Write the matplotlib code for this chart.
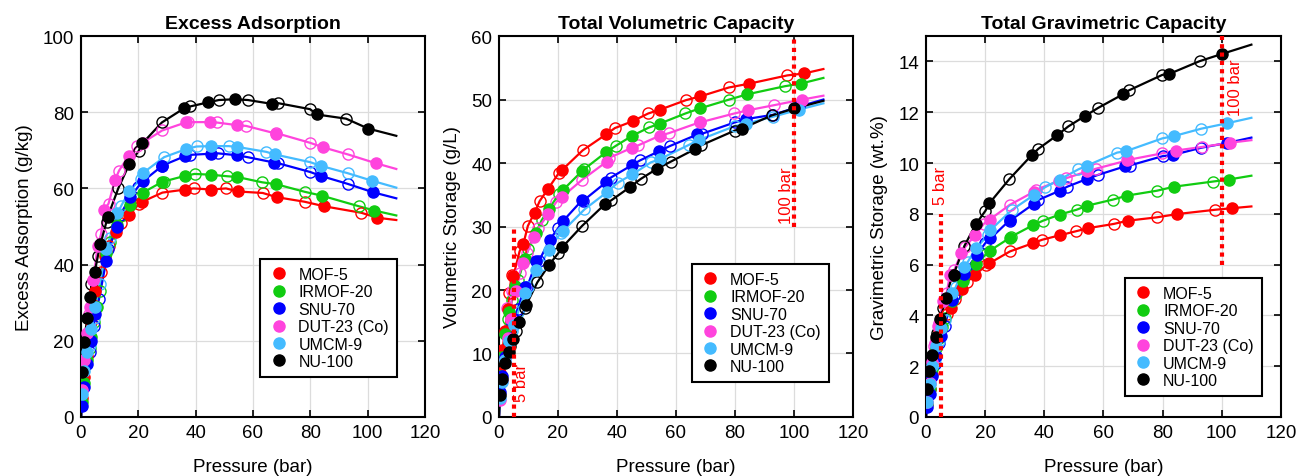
import numpy as np
import matplotlib
matplotlib.use("Agg")
import matplotlib.pyplot as plt

plt.rcParams['font.family'] = ['Liberation Sans', 'DejaVu Sans']

materials = ['MOF-5', 'IRMOF-20', 'SNU-70', 'DUT-23 (Co)', 'UMCM-9', 'NU-100']
colors = ['#ff0000', '#11cc11', '#0000ff', '#ff44dd', '#44bbff', '#000000']

# pressures (bar) of adsorption (filled) and desorption (open) points
p_ads = {
    'MOF-5': [0.5, 1.2, 2.0, 3.0, 4.9, 8.3, 12.1, 16.6, 21.4, 36.3, 45.4, 54.6, 68.3, 84.9, 103.4],
    'IRMOF-20': [0.5, 1.2, 2.2, 3.5, 5.5, 8.7, 12.5, 17.0, 21.6, 28.3, 36.3, 45.2, 54.5, 68.1, 84.0, 102.3],
    'SNU-70': [0.5, 1.2, 2.2, 3.5, 5.0, 8.8, 12.7, 17.2, 21.8, 28.3, 36.4, 45.2, 54.4, 67.3, 83.6, 101.8],
    'DUT-23 (Co)': [0.5, 1.2, 2.0, 3.0, 4.2, 5.8, 8.1, 11.9, 16.6, 21.5, 36.5, 45.1, 54.5, 68.0, 84.4, 102.9],
    'UMCM-9': [0.5, 1.2, 2.2, 3.5, 5.0, 8.8, 12.7, 16.9, 21.7, 36.6, 45.2, 54.5, 67.7, 83.8, 101.6],
    'NU-100': [0.4, 1.0, 2.2, 3.3, 4.8, 6.8, 9.3, 16.9, 21.4, 35.9, 44.4, 53.6, 66.5, 82.3, 100.2],
}
p_des = {
    'MOF-5': [3.5, 4.3, 7.0, 9.8, 13.8, 20.4, 28.4, 39.3, 50.6, 63.4, 78.0, 97.8],
    'IRMOF-20': [3.0, 4.5, 6.5, 10.0, 14.5, 20.3, 28.8, 39.6, 50.9, 63.2, 78.1, 97.0],
    'SNU-70': [3.0, 4.5, 6.3, 9.5, 13.6, 20.0, 28.4, 37.9, 47.8, 58.1, 68.8, 80.0, 93.0],
    'DUT-23 (Co)': [2.8, 4.3, 7.0, 9.6, 13.3, 19.5, 28.3, 37.3, 47.3, 57.6, 68.2, 79.8, 93.2],
    'UMCM-9': [3.0, 4.5, 6.5, 10.0, 14.1, 20.9, 29.0, 40.3, 51.5, 64.6, 79.9, 93.0],
    'NU-100': [3.6, 5.9, 8.9, 13.0, 20.1, 28.2, 38.0, 48.1, 58.2, 68.6, 79.9, 92.5],
}

# excess adsorption (g/kg)
exc_ads = {
    'MOF-5': [5, 10.5, 16, 21, 33, 42.3, 48.6, 53, 56.5, 59.7, 59.7, 59.2, 57.7, 55.3, 52.3],
    'IRMOF-20': [4, 9, 15, 21, 29, 43, 50.5, 55.6, 58.9, 61.7, 63.3, 63.6, 63.0, 61.1, 58.1, 54.2],
    'SNU-70': [3, 8, 14, 20, 27, 41, 50, 57.7, 62, 65.9, 68.5, 69.1, 68.7, 66.8, 63.3, 59],
    'DUT-23 (Co)': [7, 15, 22, 29, 36, 45, 54.4, 62.3, 68.5, 72, 77.3, 77.4, 76.6, 74.4, 70.8, 66.6],
    'UMCM-9': [6, 12, 17, 23, 29, 44, 53.5, 59.4, 64.1, 70.3, 71.1, 70.9, 68.9, 65.9, 62],
    'NU-100': [11.7, 19.8, 25.9, 31.6, 38.1, 45.4, 52.5, 66.5, 71.8, 81, 82.6, 83.4, 82.2, 79.4, 75.7],
}
exc_des = {
    'MOF-5': [25, 29.5, 38, 44.8, 50.8, 56, 58.9, 60, 60, 58.8, 56.5, 53.6],
    'IRMOF-20': [18, 25, 33, 46, 53, 57.5, 61.8, 63.8, 63.2, 61.6, 59.1, 55.3],
    'SNU-70': [17, 24, 31, 44, 53, 60.5, 66, 68.8, 69.2, 68.2, 66.6, 64.3, 61.2],
    'DUT-23 (Co)': [27, 36, 48, 56, 64.7, 71, 75.2, 77.4, 77.3, 76.4, 74.5, 72, 68.9],
    'UMCM-9': [19, 26, 35, 47, 55.5, 62.5, 68.2, 71, 71.1, 69.6, 66.9, 64],
    'NU-100': [34.9, 42.3, 51.3, 60, 69.8, 77.3, 81.5, 83.2, 83.2, 82.4, 80.8, 78.3],
}
exc_end = {'MOF-5': 51.7, 'IRMOF-20': 52.9, 'SNU-70': 57.4,
           'DUT-23 (Co)': 65.1, 'UMCM-9': 60.2, 'NU-100': 73.8}

# total volumetric storage (g/L)
vol_ads = {
    'MOF-5': [7, 10.5, 13.5, 17, 22.2, 27.3, 32.2, 35.9, 38.9, 44.5, 46.6, 48.4, 50.5, 52.5, 54.1],
    'IRMOF-20': [6.5, 9.5, 13, 16.5, 20.6, 24.9, 29, 32.8, 35.7, 38.8, 41.7, 44.3, 46.2, 48.6, 50.8, 52.5],
    'SNU-70': [4, 6.5, 9.5, 12.5, 15.5, 20.5, 24.5, 27.9, 30.9, 34.2, 37, 39.7, 41.9, 44.5, 46.9, 48.9],
    'DUT-23 (Co)': [2.7, 5.7, 9, 12.5, 15.5, 19.8, 24.2, 28.4, 31.9, 34.7, 40.2, 42.4, 44.3, 46.4, 48.3, 50],
    'UMCM-9': [3, 5.5, 9, 12, 14.5, 19.5, 23.1, 26.3, 29.3, 35.4, 38.2, 40.6, 43.6, 46.2, 48.4],
    'NU-100': [3.4, 6.0, 8.5, 10.2, 12.3, 15, 17.7, 23.9, 26.7, 33.5, 36.2, 39.1, 42.2, 45.4, 48.6],
}
vol_des = {
    'MOF-5': [19.5, 22.3, 26.1, 30.1, 34, 38.5, 42, 45.5, 47.8, 49.9, 51.9, 53.8],
    'IRMOF-20': [15.5, 18.5, 21.5, 26.5, 31, 35.1, 39, 42.7, 45.6, 47.8, 50, 52.1],
    'SNU-70': [11, 14.5, 17, 20.4, 24.6, 29.7, 34, 37.7, 40.4, 42.7, 44.6, 46.4, 47.6],
    'DUT-23 (Co)': [17.2, 19.8, 22.7, 25.9, 29.7, 33.9, 37.4, 40.8, 42.8, 44.7, 46.4, 47.8, 49.1],
    'UMCM-9': [10.5, 13.5, 16.5, 20.5, 24, 29, 32.7, 36.9, 40.1, 42.9, 45.8, 47.3],
    'NU-100': [11.2, 13.6, 17.2, 21.2, 25.8, 30.1, 34.1, 37.5, 40.2, 42.8, 45.1, 47.5],
}
vol_end = {'MOF-5': 54.8, 'IRMOF-20': 53.4, 'SNU-70': 50.0,
           'DUT-23 (Co)': 50.6, 'UMCM-9': 49.4, 'NU-100': 49.8}

# total gravimetric storage (wt.%)
grav_ads = {
    'MOF-5': [0.55, 1.1, 1.7, 2.4, 3.52, 4.31, 5.03, 5.59, 6.05, 6.85, 7.16, 7.43, 7.73, 7.99, 8.22],
    'IRMOF-20': [0.5, 1.1, 1.9, 2.7, 3.55, 4.55, 5.35, 6.02, 6.55, 7.05, 7.56, 7.97, 8.32, 8.72, 9.07, 9.35],
    'SNU-70': [0.4, 0.9, 1.6, 2.4, 3.2, 4.6, 5.63, 6.38, 7.03, 7.75, 8.39, 8.91, 9.37, 9.87, 10.32, 10.79],
    'DUT-23 (Co)': [0.6, 1.35, 2.15, 2.9, 3.6, 4.55, 5.59, 6.45, 7.16, 7.77, 8.87, 9.3, 9.67, 10.1, 10.49, 10.8],
    'UMCM-9': [0.6, 1.3, 2.0, 2.8, 3.5, 4.9, 5.9, 6.65, 7.35, 8.75, 9.35, 9.9, 10.47, 11.06, 11.56],
    'NU-100': [1.1, 1.8, 2.45, 3.15, 3.85, 4.7, 5.6, 7.6, 8.41, 10.33, 11.1, 11.84, 12.7, 13.51, 14.3],
}
grav_des = {
    'MOF-5': [3.0, 3.4, 4.05, 4.65, 5.32, 5.98, 6.52, 6.98, 7.31, 7.6, 7.86, 8.16],
    'IRMOF-20': [2.4, 3.1, 3.9, 4.85, 5.7, 6.41, 7.1, 7.73, 8.16, 8.56, 8.91, 9.27],
    'SNU-70': [2.1, 2.9, 3.6, 4.8, 5.8, 6.84, 7.73, 8.54, 9.07, 9.53, 9.9, 10.27, 10.6],
    'DUT-23 (Co)': [2.8, 3.7, 4.9, 5.8, 6.7, 7.6, 8.35, 8.95, 9.4, 9.78, 10.12, 10.38, 10.63],
    'UMCM-9': [2.3, 3.0, 3.8, 5.1, 6.1, 7.15, 8.15, 9.05, 9.75, 10.41, 10.97, 11.35],
    'NU-100': [3.3, 4.3, 5.6, 6.74, 8.12, 9.37, 10.56, 11.44, 12.17, 12.86, 13.47, 14.01],
}
grav_end = {'MOF-5': 8.29, 'IRMOF-20': 9.5, 'SNU-70': 11.0,
            'DUT-23 (Co)': 10.9, 'UMCM-9': 11.78, 'NU-100': 14.66}

P_MAX = 110

fig = plt.figure(figsize=(12.96, 4.77), dpi=100)
ax1 = fig.add_axes([0.0625, 0.1237, 0.2654, 0.7987])
ax2 = fig.add_axes([0.385, 0.1237, 0.2731, 0.7987])
ax3 = fig.add_axes([0.7145, 0.1237, 0.2739, 0.7987])

panels = [
    (ax1, exc_ads, exc_des, exc_end, 'Excess Adsorption', 'Excess Adsorption (g/kg)', 100, 20, (0.919, 0.105)),
    (ax2, vol_ads, vol_des, vol_end, 'Total Volumetric Capacity', 'Volumetric Storage (g/L)', 60, 10, (0.932, 0.092)),
    (ax3, grav_ads, grav_des, grav_end, 'Total Gravimetric Capacity', 'Gravimetric Storage (wt.%)', 15, 2, (0.946, 0.055)),
]

for ax, ads, des, end, title, ylabel, ymax, ystep, legpos in panels:
    for m, c in zip(materials, colors):
        # line through all measured points
        pts = sorted([(0, 0)] + list(zip(p_ads[m], ads[m])) + list(zip(p_des[m], des[m])) + [(P_MAX, end[m])])
        ax.plot([p for p, v in pts], [v for p, v in pts], color=c, lw=1.6, zorder=2)
        ax.plot(p_des[m], des[m], 'o', ms=8, mfc='none', mec=c, mew=1.0, zorder=3)
        ax.plot(p_ads[m], ads[m], 'o', ms=8, color=c, mec=c, zorder=4, label=m)
    ax.set_xlim(0, 120)
    ax.set_ylim(0, ymax)
    ax.set_xticks(np.arange(0, 121, 20))
    ax.set_yticks(np.arange(0, ymax + 0.1, ystep))
    ax.grid(True, color='#dcdcdc', lw=0.9)
    ax.set_axisbelow(True)
    ax.tick_params(direction='in', top=True, right=True, length=5, width=1.2, labelsize=13.5, pad=5)
    for s in ax.spines.values():
        s.set_linewidth(1.5)
    ax.set_title(title, fontsize=14, fontweight='bold', pad=6)
    ax.set_xlabel('Pressure (bar)', fontsize=13.5, labelpad=12)
    ax.set_ylabel(ylabel, fontsize=13.5, labelpad=7)
    leg = ax.legend(loc='lower right', bbox_to_anchor=legpos, borderaxespad=0, fontsize=11.5,
                    frameon=True, fancybox=False, edgecolor='black', framealpha=1, labelspacing=0.15,
                    handletextpad=0.6, borderpad=0.5, handlelength=1.3, markerscale=1.0)
    leg.get_frame().set_linewidth(1.5)

# 5 bar and 100 bar markers
dot = dict(color='red', lw=3, ls=(0, (1, 1)), zorder=5)
ax2.plot([5, 5], [0, 30], **dot)
ax2.plot([100, 100], [30, 60], **dot)
ax2.text(7.8, 5.5, '5 bar', color='red', rotation=90, ha='center', va='center', fontsize=12)
ax2.text(97.6, 35, '100 bar', color='red', rotation=90, ha='center', va='center', fontsize=12)
ax3.plot([5, 5], [0, 8], **dot)
ax3.plot([100, 100], [6, 15], **dot)
ax3.text(5, 8.4, '5 bar', color='red', rotation=90, ha='center', va='bottom', fontsize=12)
ax3.text(104.7, 13.0, '100 bar', color='red', rotation=90, ha='center', va='center', fontsize=12)

fig.savefig('out.png', dpi=100)
